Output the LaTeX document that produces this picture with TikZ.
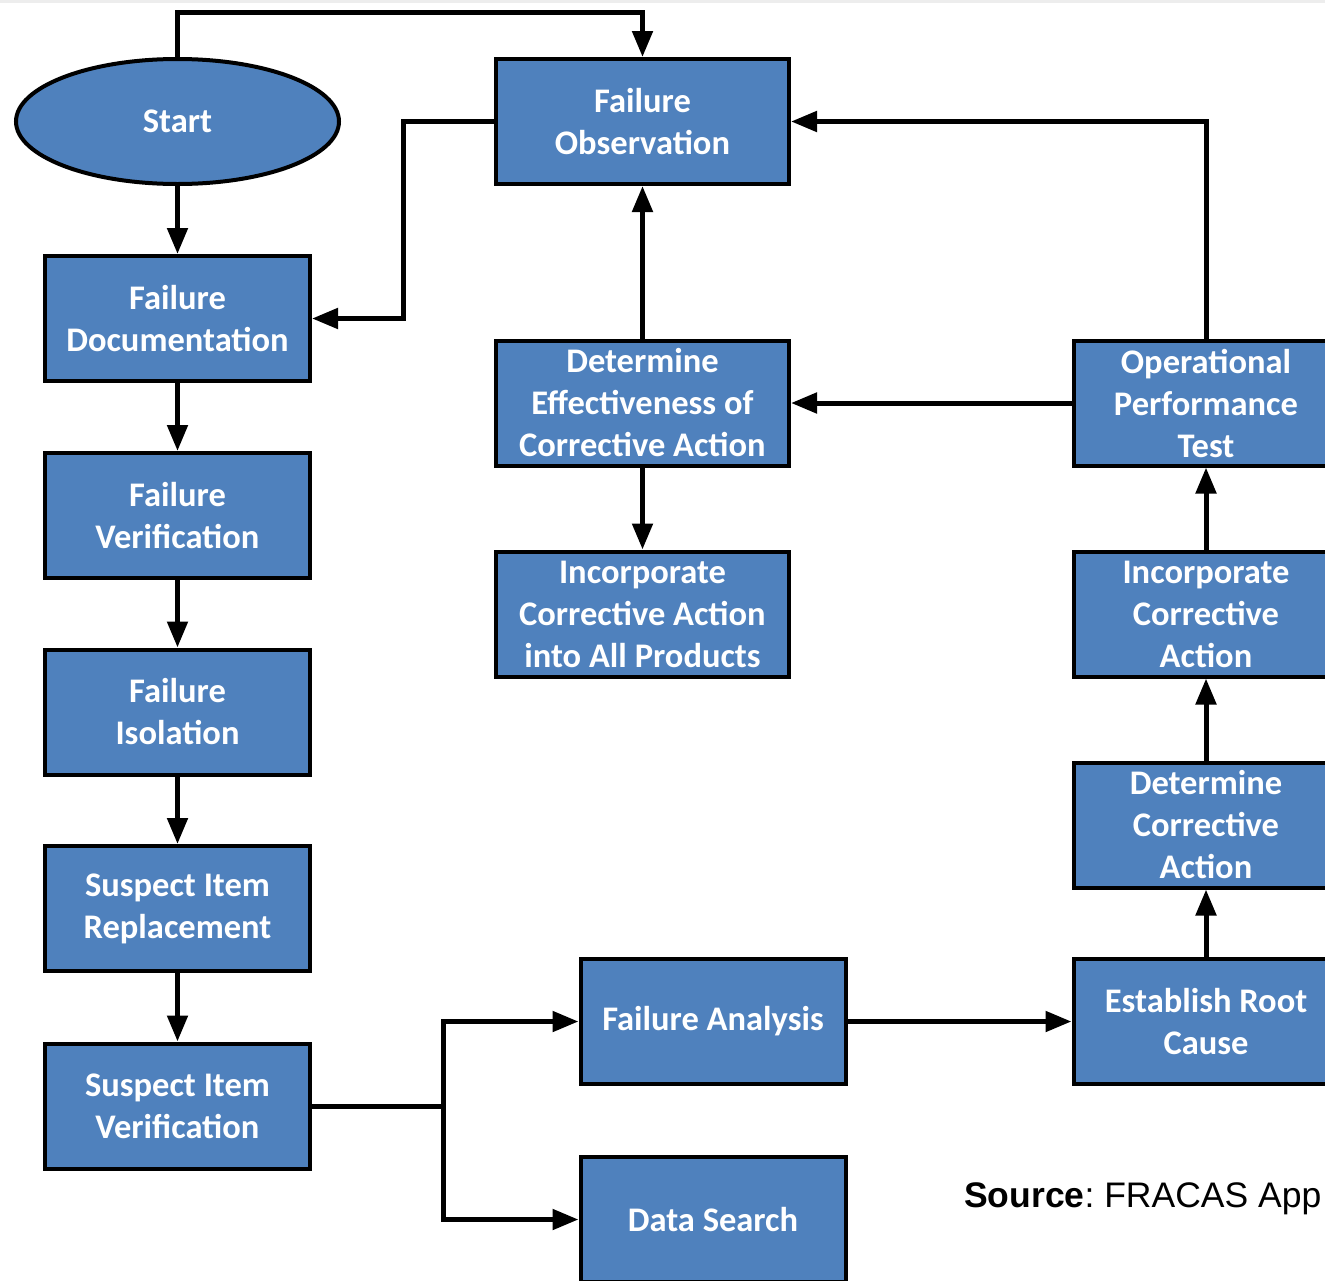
\documentclass[tikz,border=0pt]{standalone}
\usepackage{fontspec}
\setmainfont{Carlito}
\newfontfamily\srcfont{Liberation Sans}
\usetikzlibrary{arrows.meta,shapes.geometric}
\definecolor{boxblue}{HTML}{4F81BD}
\frenchspacing
\begin{document}
\begin{tikzpicture}[x=1pt,y=-1pt,
  box/.style={draw=black,line width=4pt,fill=boxblue,text=white,align=center,
    minimum width=265pt,minimum height=125pt,inner sep=2pt,
    font=\fontsize{34.5}{42}\selectfont\bfseries},
  wide/.style={minimum width=293pt},
  startnode/.style={box,ellipse,minimum width=323pt,minimum height=125pt},
  link/.style={line width=5pt},
  arr/.style={link,-{Triangle[length=26pt,width=20pt]}}]
\useasboundingbox (0,0) rectangle (1325,1280);
\clip (0,0) rectangle (1325,1280);
\fill[gray!14] (0,0) rectangle (1325,3);

% left column
\node[startnode] (start) at (177.5,121.5) {Start};
\node[box] (fd)  at (177.5,318.5) {Failure\\Documentation};
\node[box] (fv)  at (177.5,515.5) {Failure\\Verification};
\node[box] (fi)  at (177.5,712)   {Failure\\Isolation};
\node[box] (sir) at (177.5,908.5) {Suspect Item\\Replacement};
\node[box] (siv) at (177.5,1106)  {Suspect Item\\Verification};

% middle column
\node[box,wide] (fo)  at (642.5,121.5) {Failure\\Observation};
\node[box,wide] (dce) at (642.5,403)   {Determine\\Effectiveness of\\Corrective Action};
\node[box,wide] (ica) at (642.5,614)   {Incorporate\\Corrective Action\\into All Products};
\node[box] (fa) at (713,1021.5) {Failure Analysis};
\node[box] (ds) at (713,1219.5) {Data Search};

% right column
\node[box] (opt) at (1206,403)    {Operational\\Performance\\Test};
\node[box] (icr) at (1206,614)    {Incorporate\\Corrective\\Action};
\node[box] (dca) at (1206,825)    {Determine\\Corrective\\Action};
\node[box] (erc) at (1206,1021.5) {Establish Root\\Cause};

% source line
\node[anchor=base west,inner sep=0pt,font=\srcfont\fontsize{35.5}{42}\selectfont]
  (src) at (964,1207) {\textbf{Source}: FRACAS App};

% connectors
\draw[arr] (start.north) -- ++(0,-45) -| (fo.north);
\draw[arr] (start) -- (fd);
\draw[arr] (fo.west) -- ++(-91,0) |- (fd.east);
\draw[arr] (fd) -- (fv);
\draw[arr] (fv) -- (fi);
\draw[arr] (fi) -- (sir);
\draw[arr] (sir) -- (siv);
\coordinate (split) at (443,1106);
\draw[link] (siv.east) -- (split);
\draw[link,{Triangle[length=26pt,width=20pt]}-{Triangle[length=26pt,width=20pt]}]
  (fa.west) -| (split) |- (ds.west);
\draw[arr] (fa) -- (erc);
\draw[arr] (erc) -- (dca);
\draw[arr] (dca) -- (icr);
\draw[arr] (icr) -- (opt);
\draw[arr] (opt) -- (dce);
\draw[arr] (opt.north) |- (fo.east);
\draw[arr] (dce) -- (fo);
\draw[arr] (dce) -- (ica);
\end{tikzpicture}
\end{document}
